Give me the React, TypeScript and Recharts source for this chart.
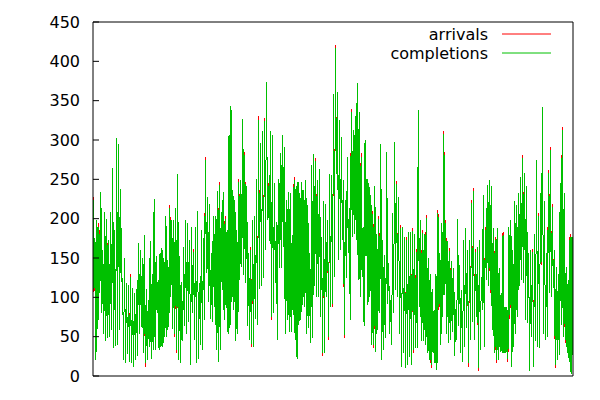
import React from "react";
import { LineChart, Line, XAxis, YAxis } from "recharts";

const yTicks = [0, 50, 100, 150, 200, 250, 300, 350, 400, 450];
const seriesNames = ["arrivals", "completions"];
const seriesColors = ["#ff0000", "#00c000"];

// arrivals as [peak, trough] pairs, left to right
const arrivalsPart1 = [
  [230, 107], [175, 20], [198, 60], [194, 105], [234, 80], [160, 54], [208, 44], [200, 60],
  [173, 50], [209, 58], [264, 35], [185, 38], [303, 40], [295, 58], [238, 120], [124, 20],
  [150, 16], [118, 28], [116, 18], [130, 16], [112, 12], [105, 20], [110, 25], [169, 54],
  [160, 62], [150, 29], [179, 12], [110, 20], [96, 37], [171, 22], [130, 33], [225, 33],
  [152, 80], [122, 33], [156, 37], [163, 37], [150, 50], [203, 50], [147, 62], [217, 100],
  [198, 60],
];
const arrivalsPart2 = [
  [198, 50], [213, 29], [257, 20], [152, 16], [120, 44], [164, 63], [198, 54], [194, 69],
  [173, 14], [190, 80], [162, 46], [190, 16], [210, 22], [118, 39], [185, 33], [175, 71],
  [278, 131], [228, 94], [219, 73], [156, 69], [203, 88], [203, 33], [235, 18], [247, 33],
  [209, 109], [234, 71], [203, 86], [186, 54], [306, 61], [343, 94], [236, 84], [224, 44],
  [186, 54], [250, 122], [249, 139], [327, 128], [285, 118], [241, 63], [156, 46], [164, 37],
  [198, 37],
];
const arrivalsPart3 = [
  [203, 73], [250, 65], [330, 111], [296, 114], [311, 124], [328, 160], [374, 198], [245, 171],
  [311, 71], [306, 80], [245, 118], [196, 46], [251, 137], [284, 137], [306, 164], [291, 54],
  [224, 71], [234, 56], [232, 56], [179, 77], [253, 46], [241, 22], [247, 65], [232, 71],
  [247, 90], [236, 88], [249, 54], [217, 61], [156, 42], [268, 48], [282, 114], [277, 101],
  [249, 101], [263, 75], [177, 25], [222, 29], [219, 101], [198, 46], [257, 88],
];
const arrivalsPart4 = [
  [255, 88], [359, 126], [421, 257], [361, 147], [325, 160], [304, 173], [249, 48], [224, 124],
  [279, 156], [213, 71], [340, 177], [313, 181], [330, 173], [372, 122], [336, 101], [283, 126],
  [190, 63], [300, 152], [251, 90], [245, 101], [230, 39], [210, 35], [241, 31], [181, 58],
  [203, 80], [295, 20], [173, 33], [154, 48], [285, 92], [143, 54], [97, 39], [207, 80],
  [298, 109], [248, 101], [228, 54], [192, 12], [190, 29], [177, 10], [177, 14], [183, 24],
];
const arrivalsPart5 = [
  [183, 14], [188, 29], [181, 35], [162, 35], [338, 88], [198, 44], [186, 44], [181, 39],
  [205, 29], [150, 20], [130, 10], [111, 29], [84, 16], [130, 8], [211, 84], [156, 39],
  [194, 75], [311, 103], [198, 54], [171, 42], [163, 46], [146, 56], [137, 25], [85, 46],
  [200, 63], [141, 29], [109, 18], [173, 37], [188, 61], [160, 12], [173, 46], [224, 69],
  [239, 46], [162, 75], [164, 6], [173, 33], [126, 84], [230, 37], [190, 122], [243, 114],
];
const arrivalsPart6 = [
  [249, 105], [241, 58], [188, 29], [177, 16], [188, 20], [137, 31], [105, 29], [183, 29],
  [88, 29], [88, 18], [190, 73], [198, 12], [160, 37], [222, 54], [217, 75], [232, 114],
  [253, 122], [281, 118], [258, 71], [241, 67], [156, 6], [160, 50], [161, 12], [181, 44],
  [275, 37], [207, 35], [232, 141], [342, 54], [222, 46], [156, 50], [262, 105], [291, 101],
  [219, 116], [160, 10], [139, 20], [130, 27], [245, 65], [317, 50], [232, 42], [139, 29],
  [122, 18], [181, 3], [177, 27],
];

// completions follow arrivals except where the red tips show:
// [part, pair, side (0 = peak, 1 = trough), completions value]
const completionTips = [
  [0, 0, 0, 226], [0, 0, 1, 111], [0, 3, 0, 190], [0, 7, 1, 48], [0, 19, 0, 126], [0, 26, 1, 16],
  [0, 39, 0, 213],
  [1, 0, 1, 54], [1, 1, 1, 33], [1, 10, 0, 158], [1, 16, 0, 274], [1, 23, 0, 243], [1, 26, 0, 199],
  [1, 33, 0, 246], [1, 36, 0, 281], [1, 39, 0, 160], [1, 39, 1, 41],
  [2, 2, 0, 326], [2, 5, 0, 324], [2, 7, 0, 241], [2, 8, 1, 75], [2, 20, 0, 249], [2, 31, 0, 273],
  [2, 34, 1, 29], [2, 37, 1, 50],
  [3, 0, 1, 92], [3, 2, 0, 417], [3, 6, 1, 52], [3, 10, 0, 336], [3, 15, 0, 279], [3, 21, 0, 206],
  [3, 21, 1, 39], [3, 24, 0, 199], [3, 33, 0, 244], [3, 35, 0, 188], [3, 38, 0, 173],
  [4, 1, 0, 184], [4, 1, 1, 33], [4, 3, 0, 158], [4, 6, 0, 182], [4, 8, 0, 201], [4, 10, 1, 14],
  [4, 14, 0, 207], [4, 14, 1, 88], [4, 17, 0, 307], [4, 18, 0, 194], [4, 20, 0, 159], [4, 29, 1, 16],
  [4, 31, 0, 220], [4, 32, 0, 235], [4, 33, 0, 158], [4, 34, 1, 10], [4, 38, 0, 186],
  [5, 0, 1, 109], [5, 3, 0, 173], [5, 3, 1, 20], [5, 7, 0, 179], [5, 9, 1, 22], [5, 10, 1, 77],
  [5, 17, 0, 277], [5, 22, 0, 157], [5, 25, 0, 203], [5, 26, 1, 145], [5, 30, 0, 258], [5, 31, 0, 287],
  [5, 32, 0, 215], [5, 32, 1, 112], [5, 33, 1, 14], [5, 37, 0, 313], [5, 38, 1, 46], [5, 41, 0, 177],
];

const parts = [arrivalsPart1, arrivalsPart2, arrivalsPart3, arrivalsPart4, arrivalsPart5, arrivalsPart6];
const arrivals: number[] = parts.flat(2);
const completions = arrivals.slice();
const partStart: number[] = [];
parts.reduce((acc, p) => {
  partStart.push(acc);
  return acc + p.length * 2;
}, 0);
completionTips.forEach(([part, pair, side, v]) => {
  completions[partStart[part] + pair * 2 + side] = v;
});

const data = arrivals.map((a, i) => ({ i, arrivals: a, completions: completions[i] }));
const lastIndex = data.length - 1;

const font = "'DejaVu Sans', sans-serif";

const LeftTick = (props: any) => {
  const { x, y, payload } = props;
  return (
    <g>
      <line x1={x} x2={x + 6} y1={y} y2={y} stroke="#000" />
      <text x={x - 13} y={y} dy="0.35em" textAnchor="end" fontFamily={font} fontSize={16} fill="#000">
        {payload.value}
      </text>
    </g>
  );
};

const RightTick = (props: any) => {
  const { x, y } = props;
  return <line x1={x} x2={x - 6} y1={y} y2={y} stroke="#000" />;
};

export default function App() {
  return (
    <div style={{ position: "absolute", left: 0, top: 0, width: 600, height: 400, background: "#fff" }}>
      {/* gnuplot-style hard pixels, no blending of the red and green strokes */}
      <style>{`.recharts-line-curve { shape-rendering: crispEdges; }`}</style>
      <LineChart width={600} height={400} data={data} margin={{ top: 0, right: 0, bottom: 0, left: 0 }}>
        <XAxis
          dataKey="i"
          type="number"
          domain={[0, lastIndex]}
          height={24}
          tick={false}
          tickLine={false}
          axisLine={{ stroke: "#000" }}
        />
        <XAxis
          xAxisId="top"
          orientation="top"
          dataKey="i"
          type="number"
          domain={[0, lastIndex]}
          height={22}
          tick={false}
          tickLine={false}
          axisLine={{ stroke: "#000" }}
        />
        <YAxis
          domain={[0, 450]}
          ticks={yTicks}
          width={93}
          tickSize={0}
          tickMargin={0}
          tickLine={false}
          tick={<LeftTick />}
          axisLine={{ stroke: "#000" }}
          interval={0}
        />
        <YAxis
          yAxisId="right"
          orientation="right"
          domain={[0, 450]}
          ticks={yTicks}
          width={27}
          tickSize={0}
          tickMargin={0}
          tickLine={false}
          tick={<RightTick />}
          axisLine={{ stroke: "#000" }}
          interval={0}
        />
        <Line
          type="linear"
          dataKey="arrivals"
          stroke={seriesColors[0]}
          strokeWidth={1}
          dot={false}
          isAnimationActive={false}
        />
        <Line
          type="linear"
          dataKey="completions"
          stroke={seriesColors[1]}
          strokeWidth={1}
          dot={false}
          isAnimationActive={false}
        />
      </LineChart>
      <svg width={600} height={400} style={{ position: "absolute", left: 0, top: 0, pointerEvents: "none" }}>
        {seriesNames.map((name, k) => (
          <g key={name}>
            <text
              x={488}
              y={34 + k * 19}
              dy="0.35em"
              textAnchor="end"
              fontFamily={font}
              fontSize={16}
              fill="#000"
            >
              {name}
            </text>
            <line x1={502} x2={551} y1={34 + k * 19} y2={34 + k * 19} stroke={seriesColors[k]} />
          </g>
        ))}
      </svg>
    </div>
  );
}
